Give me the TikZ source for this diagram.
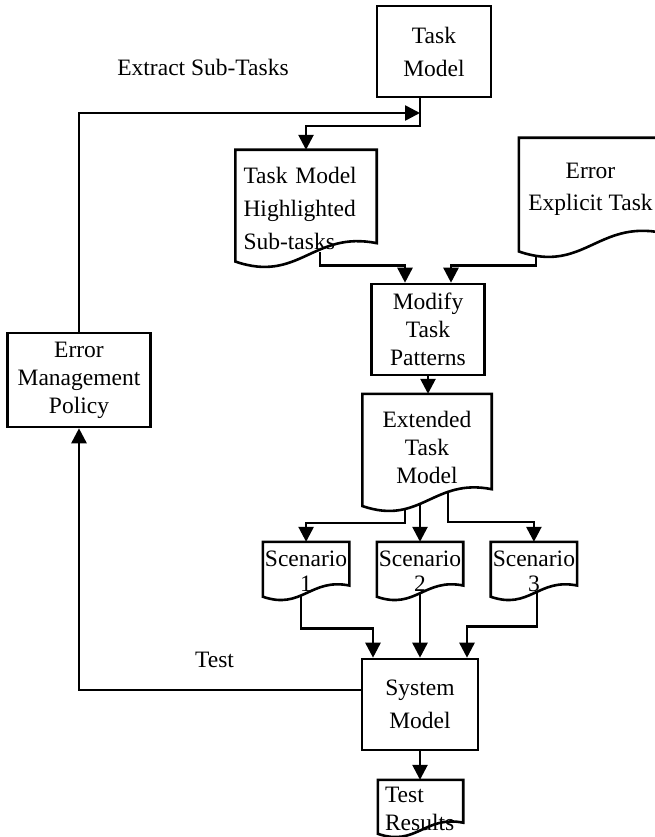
\documentclass[tikz,border=0pt]{standalone}
\usepackage{fontspec}
\setmainfont{Liberation Serif}
\usetikzlibrary{arrows.meta,positioning,backgrounds,calc}

\begin{document}
\begin{tikzpicture}[
  x=1pt, y=-1pt,
  node distance=27.5pt,
  font=\fontsize{23.5}{28}\selectfont,
  box/.style={draw, line width=2.6pt, align=center, inner sep=0pt, minimum width=#1, minimum height=91pt},
  box/.default=114pt,
  doc/.style={align=center, inner sep=0pt, minimum width=#1},
  scen/.style={doc=86pt, minimum height=58pt, font=\fontsize{23.5}{25}\selectfont},
  wide/.style={font=\fontsize{23.5}{33}\selectfont},
  arrow/.style={-{Triangle[length=15pt,width=15pt]}, line width=2.6pt},
  outline/.style={line width=2.6pt, fill=white},
]
\useasboundingbox (0,0) rectangle (655,837);

\node[box, wide] (task) at (434,51.5) {Task\\Model};
\node[doc=141pt, minimum height=117pt, wide, text width=125pt, align=left, inner xsep=8pt] (hilite) at (306,208.5) {Task Model\\Highlighted\\Sub-tasks};
\node[doc=143pt, minimum height=102pt, font=\fontsize{23.5}{32}\selectfont] (errtask) at (590.5,189) {Error\\Explicit Task};
\node[box=113pt] (modify) at (428,329.5) {Modify\\Task\\Patterns};
\node[doc=129pt, minimum height=107pt] (ext) at (427,447.5) {Extended\\Task\\Model};

\node[scen] (scen2) at (420,571) {Scenario\\2};
\node[scen, left=of scen2] (scen1) {Scenario\\1};
\node[scen, right=of scen2] (scen3) {Scenario\\3};

\node[box=116pt, wide] (system) at (420,704.5) {System\\Model};
\node[doc=85pt, minimum height=57pt, text width=71pt, align=left, inner xsep=7pt] (results) at (420.5,808.5) {Test\\Results};
\node[box=143pt, minimum height=94pt] (policy) at (79,380) {Error\\Management\\Policy};

\node (extract) at (203,67) {Extract Sub-Tasks};
\node (test) at (214.5,660) {Test};

\coordinate (join) at (420,113);
\coordinate (split) at (420,126);

\begin{scope}[on background layer]
% loop back and feed forward
\draw[arrow] (split |- task.south) -- (split) -| (hilite.north);
\draw[arrow] (policy.north) |- (join);
\draw[arrow] ([yshift=14.5pt]system.west) -| (policy.south);

\draw[arrow] ([xshift=14pt,yshift=15pt]hilite.south) |- ([xshift=-23pt,yshift=17pt]modify.north) -- ([xshift=-23pt]modify.north);
\draw[arrow] ([xshift=-54.5pt,yshift=5pt]errtask.south) |- ([xshift=23pt,yshift=17pt]modify.north) -- ([xshift=23pt]modify.north);
\draw[arrow] (modify.south) -- (modify.south |- ext.north);

\draw[arrow] ([xshift=-22pt,yshift=10pt]ext.south) |- ([yshift=19pt]scen1.north) -- (scen1.north);
\draw[arrow] ([yshift=10pt]scen2.north |- ext.south) -- (scen2.north);
\draw[arrow] ([xshift=21pt,yshift=10pt]ext.south) |- ([yshift=20pt]scen3.north) -- (scen3.north);

\draw[arrow] ([xshift=-5pt,yshift=8pt]scen1.south) |- ([xshift=-47pt,yshift=29pt]system.north) -- ([xshift=-47pt]system.north);
\draw[arrow] ([yshift=8pt]scen2.south) -- (scen2.south |- system.north);
\draw[arrow] ([xshift=3pt,yshift=8pt]scen3.south) |- ([xshift=47pt,yshift=31pt]system.north) -- ([xshift=47pt]system.north);
\draw[arrow] (system.south) -- (system.south |- results.north);

% document outlines with a wavy foot
\foreach \d/\e in {hilite/0,errtask/17,ext/10,scen1/0,scen2/0,scen3/0,results/0}
  \draw[outline] let \p1=($(\d.south west)+(0,\e)$), \p2=(\d.north east), \n1={\x2-\x1} in
    (\x1,\y2) -- (\x2,\y2) -- (\x2,\y1+0.17*\n1)
    .. controls (\x1+0.55*\n1,\y1+0.26*\n1) and (\x1+0.45*\n1,\y1-0.115*\n1) .. (\x1,\y1+0.04*\n1) -- cycle;
\end{scope}
\end{tikzpicture}
\end{document}
